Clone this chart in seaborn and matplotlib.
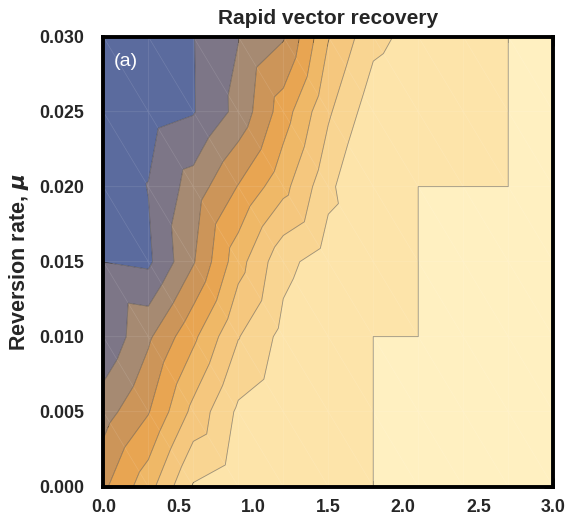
import numpy as np
import matplotlib
matplotlib.use("Agg")
import matplotlib.pyplot as plt
import matplotlib.tri as mtri
from matplotlib.ticker import MultipleLocator, FormatStrFormatter
import seaborn as sns

# ---- data: values on the sampling grid (x step 0.3, mu step 0.005) ----
x_vals = [0.0, 0.3, 0.6, 0.9, 1.2, 1.5, 1.8, 2.1, 2.4, 2.7, 3.0]
mu_vals = [0.000, 0.005, 0.010, 0.015, 0.020, 0.025, 0.030]

z_mu000 = [3.80, 5.60, 8.10, 8.70, 9.00, 9.30, 10.0, 10.0, 10.0, 10.0, 10.0]
z_mu005 = [2.55, 3.93, 6.28, 8.19, 8.80, 9.20, 10.0, 10.0, 10.0, 10.0, 10.0]
z_mu010 = [1.15, 2.82, 4.78, 6.95, 8.30, 9.00, 10.0, 10.0, 10.0, 10.0, 10.0]
z_mu015 = [0.99, 0.80, 2.91, 5.60, 7.71, 8.50, 9.00, 10.0, 10.0, 10.0, 10.0]
z_mu020 = [0.30, 1.03, 2.42, 4.05, 5.68, 7.71, 9.50, 10.0, 10.0, 10.0, 10.0]
z_mu025 = [0.40, 0.60, 0.93, 2.30, 4.50, 6.85, 8.60, 9.00, 9.20, 10.0, 10.0]
z_mu030 = [0.30, 0.50, 0.96, 1.97, 2.90, 5.94, 7.71, 8.38, 8.80, 10.0, 10.0]

levels = [0, 1, 2, 3, 4, 5, 6, 7, 8, 9.999, 10.001]
band_colors = ["#5b6b9e", "#7d7687", "#a68a72", "#cc9559", "#e8a552",
               "#efb867", "#f5c77e", "#f9d592", "#fde4aa", "#fff0c1"]

title_text = "Rapid vector recovery"
ylabel_text = r"Reversion rate, $\boldsymbol{\mu}$"
panel_text = "(a)"

# ---- build grid / triangulation (diagonal from top-left to bottom-right) ----
Z = np.array([z_mu000, z_mu005, z_mu010, z_mu015, z_mu020, z_mu025, z_mu030])
X, Y = np.meshgrid(x_vals, mu_vals)
nx, ny = len(x_vals), len(mu_vals)
triangles = []
for j in range(ny - 1):
    for i in range(nx - 1):
        bl = j * nx + i
        br = bl + 1
        tl = (j + 1) * nx + i
        tr = tl + 1
        triangles.append([bl, br, tl])
        triangles.append([br, tr, tl])
tri = mtri.Triangulation(X.ravel(), Y.ravel(), triangles)

sns.set_theme(style="white")
plt.rcParams["font.family"] = ["Liberation Sans", "DejaVu Sans"]
plt.rcParams["mathtext.fontset"] = "dejavusans"

fig = plt.figure(figsize=(5.67, 5.26), dpi=100)
ax = fig.add_axes([0.1822, 0.0747, 0.7936, 0.8555])

pal = sns.color_palette(band_colors)
ax.tricontourf(tri, Z.ravel(), levels=levels, colors=pal, antialiased=True)
ax.tricontour(tri, Z.ravel(), levels=levels[1:-1], colors=["#3a3530"],
              linewidths=0.6, alpha=0.5)
ax.triplot(tri, color="white", lw=0.5, alpha=0.13)

ax.set_xlim(0, 3.0)
ax.set_ylim(0, 0.030)
ax.xaxis.set_major_locator(MultipleLocator(0.5))
ax.xaxis.set_minor_locator(MultipleLocator(0.1))
ax.yaxis.set_major_locator(MultipleLocator(0.005))
ax.yaxis.set_minor_locator(MultipleLocator(0.001))
ax.xaxis.set_major_formatter(FormatStrFormatter("%.1f"))
ax.yaxis.set_major_formatter(FormatStrFormatter("%.3f"))
ax.tick_params(which="both", direction="in", top=True, right=True,
               bottom=True, left=True, color="black")
ax.tick_params(which="major", length=6.5, width=1.8, labelsize=12.8)
ax.tick_params(axis="x", which="major", pad=9)
ax.tick_params(axis="y", which="major", pad=14)
ax.tick_params(which="minor", length=4, width=1.4)
for lab in ax.get_xticklabels() + ax.get_yticklabels():
    lab.set_fontweight("bold")
for sp in ax.spines.values():
    sp.set_linewidth(2.8)
    sp.set_color("black")
    sp.set_visible(True)

ax.set_title(title_text, fontsize=15, fontweight="bold", pad=9)
ax.set_ylabel(ylabel_text, fontsize=15.5, fontweight="bold")
ax.yaxis.set_label_coords(-0.16, 0.5)
ax.text(0.05, 0.944, panel_text, transform=ax.transAxes, color="white",
        fontsize=14, ha="center", va="center")

fig.savefig("out.png", dpi=100)
